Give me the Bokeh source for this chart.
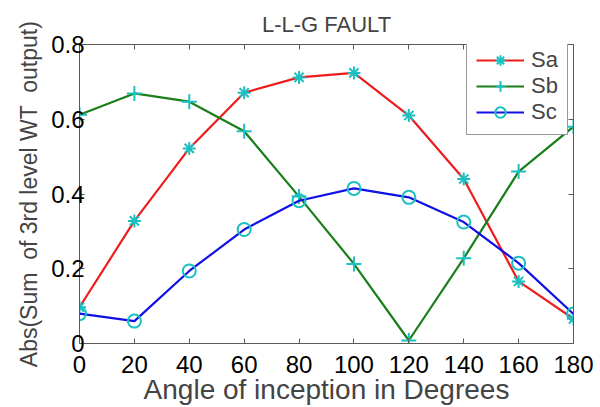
from bokeh.plotting import figure
from bokeh.models import LinearAxis, Legend, LegendItem, FixedTicker, Range1d, Title
from bokeh.embed import file_html
from bokeh.resources import INLINE

# Inception angle (degrees) and the three phase signals
angles = [0, 20, 40, 60, 80, 100, 120, 140, 160, 180]
sa = [0.097, 0.328, 0.522, 0.671, 0.712, 0.724, 0.610, 0.440, 0.166, 0.066]
sb = [0.612, 0.669, 0.647, 0.568, 0.393, 0.213, 0.008, 0.228, 0.460, 0.580]
sc = [0.080, 0.060, 0.194, 0.305, 0.382, 0.415, 0.391, 0.325, 0.215, 0.079]

x_ticks = [0, 20, 40, 60, 80, 100, 120, 140, 160, 180]
y_ticks = [0, 0.2, 0.4, 0.6, 0.8]

FONT = "Liberation Sans"
AXIS_GRAY = "#5a5a5a"
MARKER = "#1cc0c0"

p = figure(width=600, height=407, output_backend="svg", toolbar_location=None,
           x_range=Range1d(0, 180), y_range=Range1d(0, 0.8),
           min_border_left=79, min_border_right=27, min_border_top=44, min_border_bottom=61,
           x_axis_location=None, y_axis_location=None)

p.title = Title(text="L-L-G FAULT", align="center", text_font=FONT,
                text_font_size="22px", text_font_style="normal", standoff=15)

p.grid.visible = False
p.outline_line_color = None
p.background_fill_color = "white"
p.border_fill_color = "white"


def style_axis(ax, ticks, labels=True):
    ax.ticker = FixedTicker(ticks=ticks)
    ax.axis_line_color = AXIS_GRAY
    ax.axis_line_width = 1
    ax.major_tick_line_color = AXIS_GRAY
    ax.major_tick_in = 5
    ax.major_tick_out = 0
    ax.minor_tick_line_color = None
    ax.major_label_text_font = FONT
    ax.major_label_text_font_size = "24px"
    ax.major_label_text_color = "black"
    if not labels:
        ax.major_label_text_color = None
        ax.major_label_text_font_size = "1px"
        ax.major_label_standoff = 0


bottom = LinearAxis(axis_label="Angle of inception in Degrees")
top = LinearAxis()
left = LinearAxis(axis_label="Abs(Sum \u00a0of 3rd level WT \u00a0output)")
right = LinearAxis()

style_axis(bottom, x_ticks)
style_axis(top, x_ticks, labels=False)
style_axis(left, y_ticks)
style_axis(right, y_ticks, labels=False)

bottom.major_label_standoff = 12
bottom.axis_label_text_font = FONT
bottom.axis_label_text_font_size = "28px"
bottom.axis_label_text_font_style = "normal"
bottom.axis_label_standoff = -2

left.major_label_standoff = -5
left.axis_label_text_font = FONT
left.axis_label_text_font_size = "23px"
left.axis_label_text_font_style = "normal"
left.axis_label_standoff = 6

p.add_layout(bottom, "below")
p.add_layout(top, "above")
p.add_layout(left, "left")
p.add_layout(right, "right")

series = [
    ("Sa", sa, "#ee1c1c", "asterisk", 13),
    ("Sb", sb, "#1a7f1a", "cross", 15),
    ("Sc", sc, "#1010e6", "circle", 13),
]

items = []
for name, ys, color, marker, size in series:
    ln = p.line(angles, ys, line_color=color, line_width=2.2)
    mk = p.scatter(angles, ys, marker=marker, size=size, line_color=MARKER,
                   line_width=2, fill_color=None)
    items.append(LegendItem(label=name, renderers=[ln, mk]))

legend = Legend(items=items, location=(387, 208), orientation="vertical")
legend.margin = 0
legend.padding = 9
legend.spacing = 0
legend.glyph_width = 48
legend.glyph_height = 26
legend.label_height = 26
legend.label_standoff = 7
legend.label_text_font = FONT
legend.label_text_font_size = "22px"
legend.border_line_color = "#333333"
legend.border_line_width = 1
legend.background_fill_color = "white"
legend.background_fill_alpha = 1
p.add_layout(legend, "center")

open("out.html", "w").write(file_html(p, INLINE))
